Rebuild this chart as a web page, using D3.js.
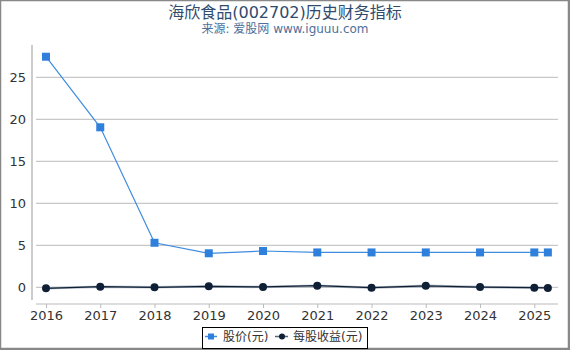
<!DOCTYPE html>
<html>
<head>
<meta charset="utf-8">
<script src="https://cdn.jsdelivr.net/npm/d3@7"></script>
<style>
  html, body { margin: 0; padding: 0; background: #fff; }
  svg { display: block; font-family: "DejaVu Sans", "Noto Sans CJK SC", sans-serif; }
</style>
</head>
<body>
<svg id="chart" width="570" height="350"></svg>
<script>
// ─── Data ─────────────────────────────────────────────────────────────────────
const years      = [2016, 2017, 2018, 2019, 2020, 2021, 2022, 2023, 2024, 2025, 2025.25];
const price      = [27.45, 19.05, 5.3, 4.05, 4.32, 4.15, 4.15, 4.15, 4.15, 4.15, 4.15];
const eps        = [-0.12, 0.07, 0.0, 0.12, 0.04, 0.19, -0.05, 0.18, 0.03, -0.05, -0.08];
const xTicks     = [2016, 2017, 2018, 2019, 2020, 2021, 2022, 2023, 2024, 2025];
const yTicks     = [0, 5, 10, 15, 20, 25];
const seriesNames = ['股价(元)', '每股收益(元)'];

const W = 570, H = 350;
const svg = d3.select('#chart');

// ─── Scales ───────────────────────────────────────────────────────────────────
const x = d3.scaleLinear().domain([2016, 2025]).range([46, 534.3]);
const y = d3.scaleLinear().domain([0, 25]).range([287.3, 77.3]);

// frame
svg.append('rect')
  .attr('x', 0.5).attr('y', 0.5).attr('width', W - 2).attr('height', H - 2)
  .attr('fill', 'none').attr('stroke', '#888').attr('stroke-width', 1.5);
svg.append('line').attr('x1', 569).attr('x2', 569).attr('y1', 0).attr('y2', H).attr('stroke', '#888').attr('stroke-width', 2);
svg.append('line').attr('x1', 0).attr('x2', W).attr('y1', 349).attr('y2', 349).attr('stroke', '#888').attr('stroke-width', 2);

// ─── Title ────────────────────────────────────────────────────────────────────
svg.append('text')
  .attr('x', 285).attr('y', 18)
  .attr('text-anchor', 'middle')
  .attr('font-size', 16)
  .attr('fill', '#2f4b6e')
  .text('海欣食品(002702)历史财务指标');

svg.append('text')
  .attr('x', 285).attr('y', 33)
  .attr('text-anchor', 'middle')
  .attr('font-size', 12)
  .attr('fill', '#4f6f9a')
  .text('来源: 爱股网 www.iguuu.com');

// ─── Grid ─────────────────────────────────────────────────────────────────────
svg.append('g')
  .selectAll('line')
  .data(yTicks)
  .join('line')
  .attr('x1', 36).attr('x2', 558)
  .attr('y1', d => y(d)).attr('y2', d => y(d))
  .attr('stroke', '#bbb').attr('stroke-width', 1);

// ─── Axes ─────────────────────────────────────────────────────────────────────
const yAxis = svg.append('g')
  .attr('transform', 'translate(32,0)')
  .call(d3.axisLeft(y).tickValues(yTicks).tickSize(0).tickPadding(6));
yAxis.select('.domain').remove();
yAxis.append('line')
  .attr('x1', 0).attr('x2', 0).attr('y1', 45).attr('y2', 300)
  .attr('stroke', '#999');
yAxis.selectAll('text')
  .attr('font-size', 13).attr('fill', '#333')
  .attr('font-family', '"DejaVu Sans", sans-serif');

const xAxis = svg.append('g')
  .attr('transform', 'translate(0,304)')
  .call(d3.axisBottom(x).tickValues(xTicks).tickFormat(d3.format('d')).tickSize(4).tickPadding(3));
xAxis.select('.domain').remove();
xAxis.append('line')
  .attr('x1', 36).attr('x2', 558).attr('y1', 0).attr('y2', 0)
  .attr('stroke', '#bbb');
xAxis.selectAll('.tick line').attr('stroke', '#bbb');
xAxis.selectAll('text')
  .attr('font-size', 13).attr('fill', '#333')
  .attr('font-family', '"DejaVu Sans", sans-serif');

// ─── Series ───────────────────────────────────────────────────────────────────
const priceData = years.map((yr, i) => ({ x: yr, v: price[i] }));
const epsData   = years.map((yr, i) => ({ x: yr, v: eps[i] }));
const line = d3.line().x(d => x(d.x)).y(d => y(d.v));

svg.append('path')
  .datum(epsData)
  .attr('d', line)
  .attr('fill', 'none')
  .attr('stroke', '#8a96a6').attr('stroke-width', 2.5).attr('stroke-opacity', 0.6);
svg.append('path')
  .datum(epsData)
  .attr('d', line)
  .attr('fill', 'none')
  .attr('stroke', '#0e2038').attr('stroke-width', 1.2);

svg.append('path')
  .datum(priceData)
  .attr('d', line)
  .attr('fill', 'none')
  .attr('stroke', '#3f8ce0').attr('stroke-width', 1.2);

svg.append('g')
  .selectAll('rect')
  .data(priceData)
  .join('rect')
  .attr('x', d => x(d.x) - 4).attr('y', d => y(d.v) - 4)
  .attr('width', 8).attr('height', 8)
  .attr('fill', '#2f80dc');

svg.append('g')
  .selectAll('circle')
  .data(epsData)
  .join('circle')
  .attr('cx', d => x(d.x)).attr('cy', d => y(d.v))
  .attr('r', 4)
  .attr('fill', '#0f1f36');

// ─── Legend ───────────────────────────────────────────────────────────────────
const lg = svg.append('g');
lg.append('rect')
  .attr('x', 202.5).attr('y', 327.5).attr('width', 165).attr('height', 21)
  .attr('fill', '#fff').attr('stroke', '#000').attr('stroke-width', 1);

lg.append('line').attr('x1', 205).attr('x2', 217).attr('y1', 336.5).attr('y2', 336.5)
  .attr('stroke', '#3f8ce0').attr('stroke-width', 1.5);
lg.append('rect').attr('x', 208).attr('y', 333.5).attr('width', 6).attr('height', 6).attr('fill', '#2f80dc');
lg.append('text').attr('x', 223).attr('y', 341).attr('font-size', 12).attr('fill', '#333')
  .text(seriesNames[0]);

lg.append('line').attr('x1', 275).attr('x2', 288).attr('y1', 336.5).attr('y2', 336.5)
  .attr('stroke', '#56657a').attr('stroke-width', 1.5);
lg.append('circle').attr('cx', 282).attr('cy', 336.5).attr('r', 3).attr('fill', '#0f1f36');
lg.append('text').attr('x', 293).attr('y', 341).attr('font-size', 12).attr('fill', '#333')
  .text(seriesNames[1]);
</script>
</body>
</html>
